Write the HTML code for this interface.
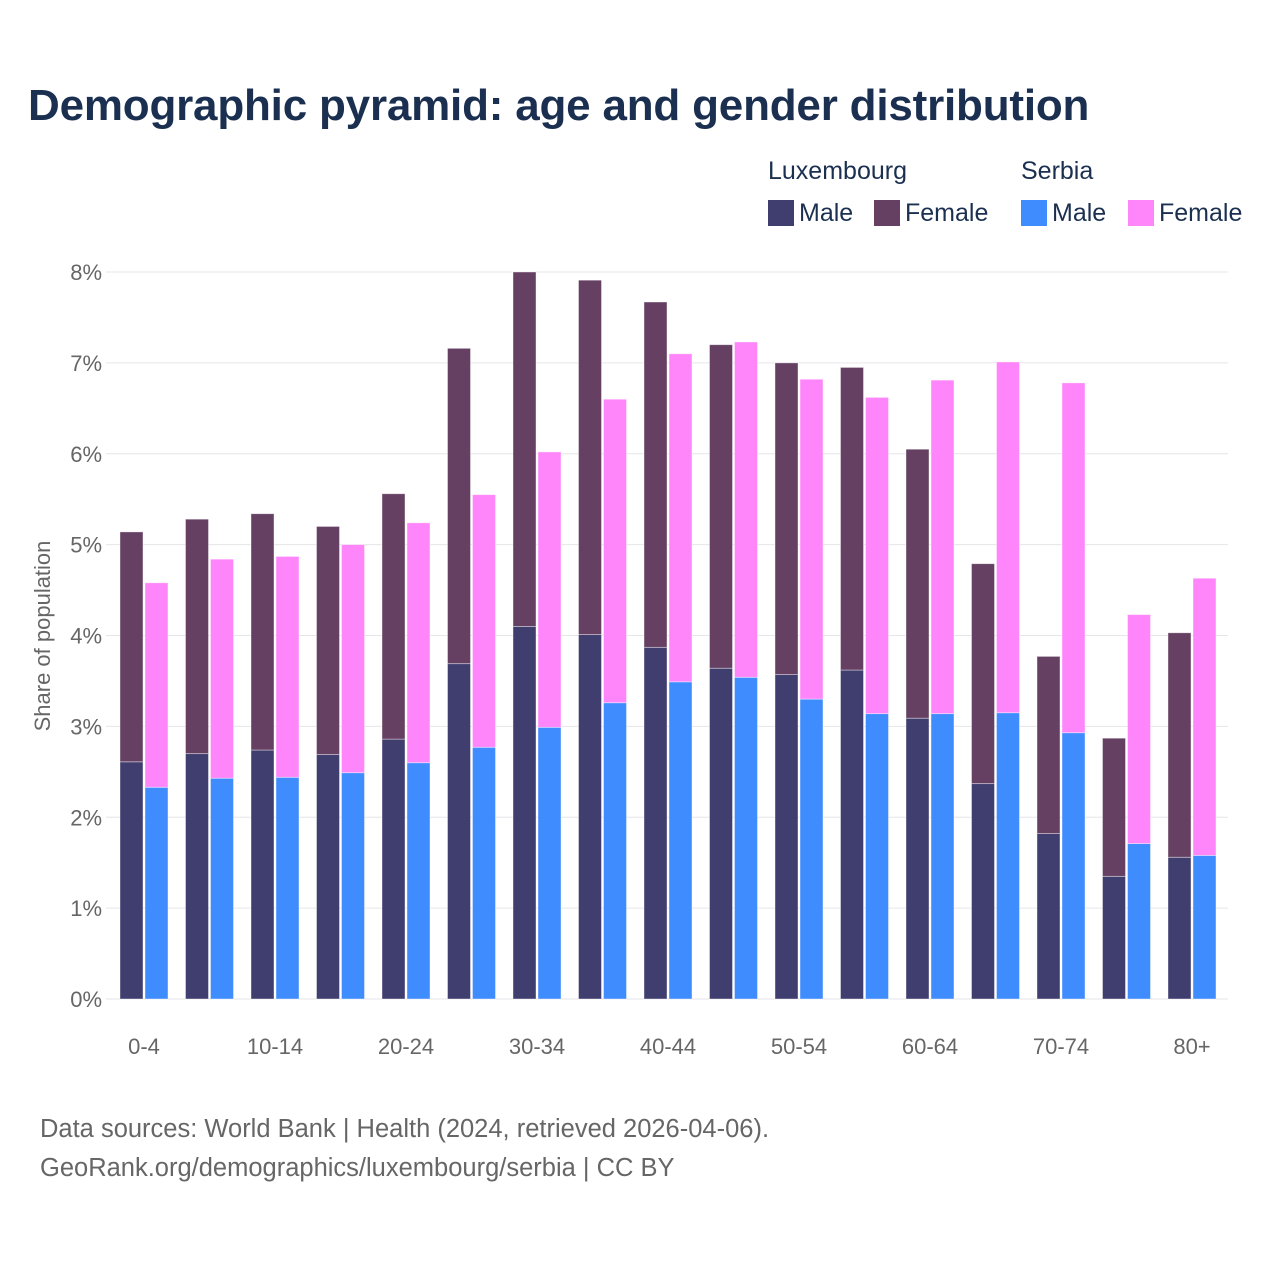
<!DOCTYPE html>
<html><head><meta charset="utf-8">
<style>
body{margin:0;background:#fff;width:1280px;height:1280px;overflow:hidden;font-family:"Liberation Sans",sans-serif;}
#title{position:absolute;left:28px;top:81px;font-size:44px;font-weight:bold;color:#1b3050;letter-spacing:-0.2px;}
.lg{position:absolute;font-size:25px;color:#1b3050;}
.sw{position:absolute;width:26px;height:26px;}
.foot{position:absolute;left:40px;font-size:25.5px;color:#666;}
</style></head><body>
<div id="title">Demographic pyramid: age and gender distribution</div>
<div class="lg" style="left:768px;top:157px">Luxembourg</div>
<div class="lg" style="left:1021px;top:157px">Serbia</div>
<div class="sw" style="left:768px;top:200px;background:#403e6f"></div>
<div class="lg" style="left:799px;top:199px">Male</div>
<div class="sw" style="left:874px;top:200px;background:#654062"></div>
<div class="lg" style="left:905px;top:199px">Female</div>
<div class="sw" style="left:1021px;top:200px;background:#3f8cff"></div>
<div class="lg" style="left:1052px;top:199px">Male</div>
<div class="sw" style="left:1128px;top:200px;background:#ff85fa"></div>
<div class="lg" style="left:1159px;top:199px">Female</div>
<svg id="chart" width="1280" height="1280" style="position:absolute;left:0;top:0"></svg>
<div class="foot" style="top:1115px">Data sources: World Bank | Health (2024, retrieved 2026-04-06).</div>
<div class="foot" style="top:1154px">GeoRank.org/demographics/luxembourg/serbia | CC BY</div>
<script>
const categories=["0-4","5-9","10-14","15-19","20-24","25-29","30-34","35-39","40-44","45-49","50-54","55-59","60-64","65-69","70-74","75-79","80+"];
const luxMale=[2.61,2.70,2.74,2.69,2.86,3.69,4.10,4.01,3.87,3.64,3.57,3.62,3.09,2.37,1.82,1.35,1.56];
const luxFemale=[2.53,2.58,2.60,2.51,2.70,3.47,3.90,3.90,3.80,3.56,3.43,3.33,2.96,2.42,1.95,1.52,2.47];
const srbMale=[2.33,2.43,2.44,2.49,2.60,2.77,2.99,3.26,3.49,3.54,3.30,3.14,3.14,3.15,2.93,1.71,1.58];
const srbFemale=[2.25,2.41,2.43,2.51,2.64,2.78,3.03,3.34,3.61,3.69,3.52,3.48,3.67,3.86,3.85,2.52,3.05];
const yTicks=[0,1,2,3,4,5,6,7,8];
const xLabelIdx=[0,2,4,6,8,10,12,14,16];
const svg=document.getElementById('chart');
const NS='http://www.w3.org/2000/svg';
const y0=999,pxPer=90.875,left=112,step=65.5;
const y=v=>y0-v*pxPer;
const gx=i=>left+i*step;
function el(t,a){const e=document.createElementNS(NS,t);for(const k in a)e.setAttribute(k,a[k]);svg.appendChild(e);return e;}
yTicks.forEach(t=>{
 const g=el('line',{x1:106,x2:1228,y1:y(t),y2:y(t),stroke:'#e6e6ea','stroke-width':1});
 
 
 const l=el('text',{x:102,y:y(t)+8,'text-anchor':'end','font-size':22,fill:'#666','font-family':'Liberation Sans, sans-serif'});
 l.textContent=t+'%';
 
 
});
function bar(x,v0,v1,c,n){
 const r=el('rect',{x:x,y:y(v1),width:23,height:y(v0)-y(v1),fill:c,stroke:'#fff','stroke-opacity':0.5,'stroke-width':0.8});
 
 
}
categories.forEach((c,i)=>{
 const x=gx(i)+8;
 bar(x,0,luxMale[i],'#403e6f','bar-lux-male-'+c);
 bar(x,luxMale[i],luxMale[i]+luxFemale[i],'#654062','bar-lux-female-'+c);
 bar(x+25,0,srbMale[i],'#3f8cff','bar-serbia-male-'+c);
 bar(x+25,srbMale[i],srbMale[i]+srbFemale[i],'#ff85fa','bar-serbia-female-'+c);
});
xLabelIdx.forEach(i=>{
 const l=el('text',{x:gx(i)+32,y:1054,'text-anchor':'middle','font-size':22,fill:'#666','font-family':'Liberation Sans, sans-serif'});
 l.textContent=categories[i];
 
 
});
const yt=el('text',{x:0,y:0,transform:'translate(50,636) rotate(-90)','text-anchor':'middle','font-size':22,fill:'#666','font-family':'Liberation Sans, sans-serif'});
yt.textContent='Share of population';


</script>
</body></html>
